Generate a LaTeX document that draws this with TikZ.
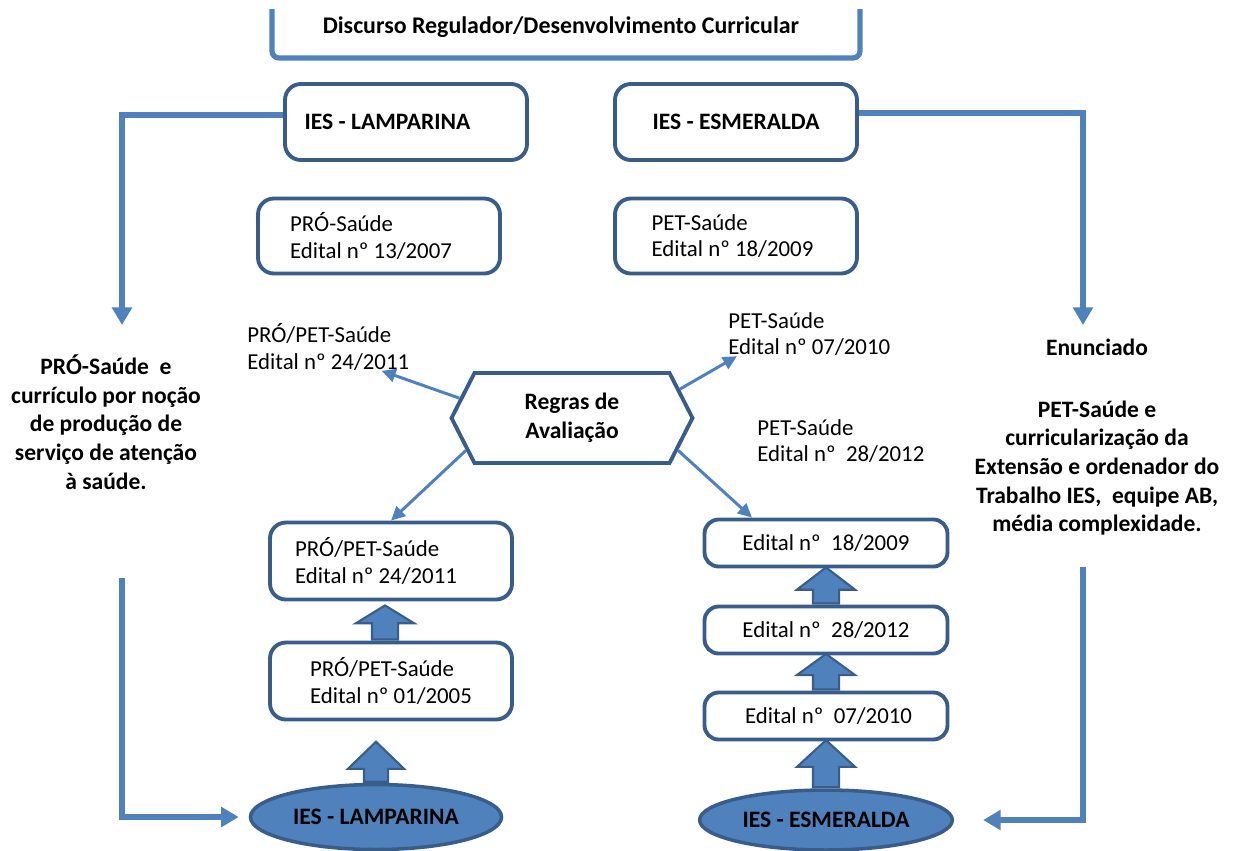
\documentclass[tikz,border=0pt]{standalone}
\usepackage{fontspec}
\setmainfont{Carlito}
\usepackage{tikz}
\usetikzlibrary{calc, backgrounds}
\usetikzlibrary{arrows.meta, shapes.symbols, shapes.arrows, shapes.geometric}

\definecolor{lineblue}{HTML}{4F81BD}
\definecolor{boxblue}{HTML}{385D8A}
\newcommand{\boxfont}{\fontsize{13}{15.3}\selectfont}
\newcommand{\headfont}{\fontsize{13.4}{16.3}\selectfont\bfseries}

\begin{document}
\begin{tikzpicture}[x=0.02cm, y=-0.02cm]
      \tikzset{box/.style = {draw=boxblue, line width=2.2pt, rounded corners=9pt, fill=white, align=left, minimum width=4.84cm, font=\boxfont}}
      \tikzset{lbl/.style = {align=left, inner sep=0pt, font=\boxfont}}
      \tikzset{boldtxt/.style = {align=center, inner sep=0pt, font=\headfont}}
      \tikzset{link/.style = {draw=lineblue, line width=3pt, -{Triangle[length=10pt,width=11pt]}}}
      \tikzset{ruleedge/.style = {draw=lineblue, line width=1.7pt, -{Triangle[length=8pt,width=7.5pt]}}}
      \tikzset{uparr/.style = {single arrow, shape border rotate=90, draw=boxblue, fill=lineblue, line width=1.2pt, inner sep=0.24cm, anchor=tail, single arrow head extend=0.32cm}}
      \tikzset{ellnode/.style = {ellipse, draw=boxblue, fill=lineblue, line width=2pt, font=\headfont}}
      \useasboundingbox (0,0) rectangle (1237,850);

      % top bracket
      \node[font=\fontsize{13.6}{15}\selectfont\bfseries] (title) at (561,27) {Discurso Regulador/Desenvolvimento Curricular};
      \draw[draw=lineblue, line width=3pt, rounded corners=4pt] (272,9) -- (272,58) -- (860,58) -- (860,9);

      \node[box, font=\headfont, minimum height=1.52cm] (lamp) at (406,122) {IES - LAMPARINA\hspace*{21pt}};
      \node[box, font=\headfont, minimum height=1.52cm] (esme) at (736,122) {IES - ESMERALDA};
      \node[box, minimum height=1.5cm] (pro) at (379,236) {PRÓ-Saúde\\Edital nº 13/2007\hspace*{9pt}};
      \node[box, minimum height=1.5cm] (pet) at (736,236) {PET-Saúde\\Edital nº 18/2009\hspace*{4pt}};

      \node[boldtxt] (ltxt) at (106,422) {PRÓ-Saúde\ \ e\\currículo por noção\\de produção de\\serviço de atenção\\à saúde.};
      \node[boldtxt] (rtxt) at (1097,437) {Enunciado\\[19pt]PET-Saúde e\\curricularização da\\Extensão e ordenador do\\Trabalho IES,\ \ equipe AB,\\média complexidade.};

      \node[signal, signal to=west and east, signal pointer angle=126, draw=boxblue, line width=2.2pt, minimum width=4.82cm, minimum height=1.8cm, align=center, font=\headfont] (regras) at (572,418) {Regras de\\Avaliação};

      \node[lbl, anchor=west] (l2411) at (247,347) {PRÓ/PET-Saúde\\Edital nº 24/2011};
      \node[lbl, anchor=west] (l0710) at (728,334) {PET-Saúde\\Edital nº 07/2010};
      \node[lbl, anchor=west] (l2812) at (757,441) {PET-Saúde\\Edital nº\ \ 28/2012};

      \node[box, minimum height=1.54cm] (b2411) at (391,561) {PRÓ/PET-Saúde\\Edital nº 24/2011\hspace*{17pt}};
      \node[box, minimum height=1.54cm] (b0105) at (391,681) {PRÓ/PET-Saúde\\Edital nº 01/2005};
      \node[box, minimum height=0.94cm, minimum width=4.86cm, rounded corners=8pt] (b1809) at (826,543) {Edital nº\ \ 18/2009};
      \node[box, minimum height=0.94cm, minimum width=4.86cm, rounded corners=8pt] (b2812) at (826,630) {Edital nº\ \ 28/2012};
      \node[box, minimum height=0.94cm, minimum width=4.86cm, rounded corners=8pt] (b0710) at (826,716) {\ Edital nº\ \ 07/2010};

      \node[ellnode, minimum width=4.9cm, minimum height=1.3cm] (lampE) at (376,817) {IES - LAMPARINA};
      \node[ellnode, minimum width=4.86cm, minimum height=1.2cm] (esmeE) at (826,820) {IES - ESMERALDA};

      \begin{scope}[on background layer]
        \node[uparr, minimum height=0.6cm, single arrow tip angle=117] (up1) at ($(b0105.north)+(-6,0)$) {};
        \node[uparr, minimum height=0.8cm, single arrow tip angle=92, inner sep=0.22cm] (up2) at (lampE.north) {};
        \node[uparr, minimum height=0.72cm, single arrow tip angle=105] (up3) at (b2812.north) {};
        \node[uparr, minimum height=0.7cm, single arrow tip angle=108] (up4) at (b0710.north) {};
        \node[uparr, minimum height=0.94cm, single arrow tip angle=95] (up5) at (esmeE.north) {};
      \end{scope}

      \coordinate (lt) at (122,325);
      \coordinate (rt) at (1083,325);
      \coordinate (lb) at (122,578);
      \coordinate (rb) at (1083,567);
      \draw[link] ($(lamp.west)+(0,-7)$) -| (lt);
      \draw[link] ($(esme.east)+(0,-9)$) -| (rt);
      \draw[link, shorten >=0.2cm] (lb) |- (lampE.west);
      \draw[link, shorten >=0.58cm] (rb) |- (esmeE.east);

      \draw[ruleedge] (regras.170) -- ($(l2411.south east)+(-28,0)$);
      \draw[ruleedge] (regras.15) -- ($(l0710.south west)+(9,0)$);
      \draw[ruleedge] (regras.-17) -- ($(b1809.north)+(-74,0)$);
      \draw[ruleedge] (regras.197) -- (b2411.north);
    \end{tikzpicture}
\end{document}
